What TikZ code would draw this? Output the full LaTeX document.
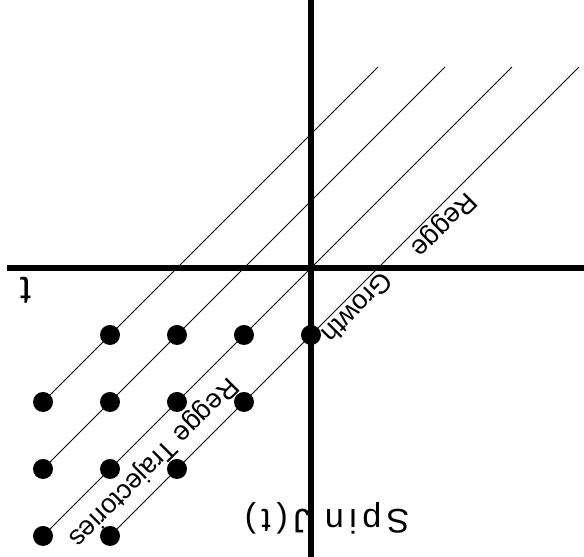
\documentclass[tikz,border=0pt]{standalone}
\usepackage{fontspec}
\setmainfont{Liberation Sans}
\begin{document}
\begin{tikzpicture}[x=67pt, y=67pt, rotate=180, transform shape,
  dot/.style={circle, fill=black, inner sep=0pt, minimum size=20pt},
  axis/.style={line width=6pt},
  traj/.style={line width=0.8pt},
  lab/.style={font=\fontsize{27}{30}\selectfont, inner sep=0pt}]
  \useasboundingbox (-4.075,-4.0) rectangle (4.642,4.313);
  % axes
  \coordinate (vb) at (0,4.313);
  \coordinate (vt) at (0,-4);
  \coordinate (hl) at (-4.075,0);
  \coordinate (hr) at (4.537,0);
  \draw[axis] (vb) -- (vt);
  \draw[axis] (hl) -- (hr);
  % states on the trajectories
  \foreach \x/\y in {0/1,1/1,2/1,3/1,1/2,2/2,3/2,4/2,2/3,3/3,4/3,3/4,4/4}
    \node[dot] (d\x\y) at (\x,\y) {};
  % trajectories
  \foreach \s/\e/\n in {d42/{-1,-3}/a, d43/{-2,-3}/b, d44/{-3,-3}/c, d34/{-4,-3}/d} {
    \coordinate (e\n) at (\e);
    \draw[traj] (\s.center) -- (e\n);
  }
  \node[lab, rotate=45] (rtraj) at (2.358,2.896) {Regge Trajectories};
  \node[lab, rotate=45] (grow) at (-0.70,0.60) {Growth};
  \node[lab, rotate=45] (regge) at (-1.97,-0.66) {Regge};
  \node[inner sep=0pt, font=\fontsize{34}{38}\selectfont\addfontfeature{LetterSpace=16}] (spin) at (-0.24,3.73) {Spin J(t)};
  \node[inner sep=0pt, font=\fontsize{40}{44}\selectfont] (tlab) at (4.254,0.328) {t};
\end{tikzpicture}
\end{document}
